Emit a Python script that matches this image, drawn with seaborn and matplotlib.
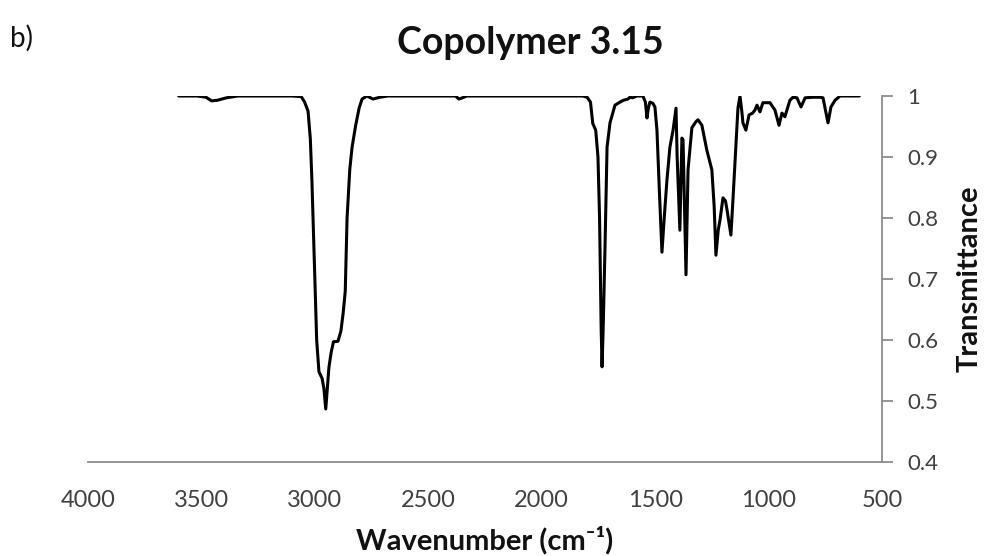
import matplotlib
matplotlib.use("Agg")
import matplotlib.pyplot as plt
import seaborn as sns
import pandas as pd

# Data
wavenumber = [3600, 3520, 3480, 3455, 3430, 3390, 3340, 3100, 3060, 3045, 3030, 3020,
              3013, 3005, 3000, 2992, 2982, 2968, 2960, 2952, 2945, 2938, 2928, 2918,
              2898, 2885, 2875, 2866, 2858, 2846, 2836, 2820, 2805, 2792, 2770, 2744,
              2713, 2678, 2380, 2365, 2350, 2330, 1820, 1800, 1785, 1775, 1762, 1752,
              1745, 1738, 1734, 1729, 1721, 1712, 1699, 1677, 1655, 1640, 1620, 1611,
              1600, 1580, 1554, 1543, 1536, 1530, 1523, 1510, 1501, 1492, 1482, 1470,
              1460, 1448, 1435, 1421, 1408, 1403, 1391, 1382, 1377, 1364, 1355, 1338,
              1320, 1311, 1294, 1272, 1250, 1240, 1232, 1222, 1214, 1201, 1190, 1183,
              1166, 1157, 1148, 1135, 1126, 1118, 1113, 1100, 1086, 1070, 1060, 1051,
              1038, 1025, 994, 972, 954, 941, 928, 906, 892, 875, 857, 839, 804, 773,
              760, 748, 738, 725, 707, 685, 600]
transmittance = [1.0, 1.0, 0.998, 0.992, 0.993, 0.997, 1.0, 1.0, 0.999, 0.99, 0.975, 0.93,
                 0.862, 0.76, 0.70, 0.60, 0.548, 0.537, 0.52, 0.487, 0.52, 0.555, 0.58, 0.597,
                 0.598, 0.615, 0.645, 0.68, 0.80, 0.88, 0.916, 0.952, 0.98, 0.995, 1.0, 0.995,
                 0.998, 1.0, 1.0, 0.995, 0.997, 1.0, 1.0, 0.998, 0.99, 0.955, 0.944, 0.90,
                 0.80, 0.62, 0.556, 0.62, 0.752, 0.916, 0.956, 0.985, 0.990, 0.993, 0.995, 0.998,
                 0.997, 1.0, 1.0, 0.99, 0.964, 0.98, 0.99, 0.988, 0.982, 0.944, 0.85, 0.744,
                 0.80, 0.862, 0.916, 0.944, 0.980, 0.90, 0.780, 0.931, 0.928, 0.707, 0.879, 0.948,
                 0.958, 0.961, 0.952, 0.911, 0.879, 0.82, 0.739, 0.78, 0.797, 0.833, 0.828, 0.813,
                 0.772, 0.83, 0.890, 0.98, 1.0, 0.975, 0.956, 0.944, 0.969, 0.972, 0.977, 0.985,
                 0.974, 0.989, 0.989, 0.977, 0.952, 0.972, 0.966, 0.993, 0.998, 0.997, 0.982, 0.997,
                 0.998, 0.998, 0.997, 0.975, 0.956, 0.982, 0.993, 1.0, 1.0]

x_ticks = [4000, 3500, 3000, 2500, 2000, 1500, 1000, 500]
y_ticks = [0.4, 0.5, 0.6, 0.7, 0.8, 0.9, 1.0]
y_tick_labels = ["0.4", "0.5", "0.6", "0.7", "0.8", "0.9", "1"]

sns.set_theme(style="white")
plt.rcParams["font.family"] = ["Lato", "DejaVu Sans"]

df = pd.DataFrame({"Wavenumber": wavenumber, "Transmittance": transmittance})

fig = plt.figure(figsize=(9.85, 5.56), dpi=100)
ax = fig.add_axes([88 / 985, 1 - 462 / 556, (882 - 88) / 985, (462 - 96) / 556])

sns.lineplot(data=df, x="Wavenumber", y="Transmittance", ax=ax, color="black",
             linewidth=2.2, estimator=None, sort=True)

ax.set_xlim(4000, 500)
ax.set_ylim(0.4, 1.0)
ax.set_xticks(x_ticks)
ax.set_xticklabels([str(t) for t in x_ticks])
ax.set_yticks(y_ticks)
ax.set_yticklabels(y_tick_labels)

ax.yaxis.tick_right()
ax.yaxis.set_label_position("right")

spine_color = "#8c8c8c"
for side in ["left", "top"]:
    ax.spines[side].set_visible(False)
for side in ["right", "bottom"]:
    ax.spines[side].set_visible(True)
    ax.spines[side].set_color(spine_color)
    ax.spines[side].set_linewidth(1.3)

ax.tick_params(axis="both", which="major", direction="out", length=8, width=1.3,
               color=spine_color, labelsize=17, labelcolor="#404040")
ax.tick_params(axis="x", pad=12)
ax.tick_params(axis="y", pad=10, labelsize=16)

ax.set_xlabel("Wavenumber (cm⁻¹)", fontsize=21, fontweight="bold", color="#111111")
ax.set_ylabel("Transmittance", fontsize=21, fontweight="bold", color="#111111")
ax.xaxis.set_label_coords(0.5, (462 - 540) / 366)
ax.yaxis.set_label_coords((970 - 88) / 794, 0.5)
ax.xaxis.label.set_va("center")
ax.xaxis.label.set_ha("center")
ax.yaxis.label.set_va("center")
ax.yaxis.label.set_ha("center")

fig.text(530 / 985, 1 - 43 / 556, "Copolymer 3.15", ha="center", va="center",
         fontsize=27, fontweight="bold", color="#111111")
fig.text(10 / 985, 1 - 38 / 556, "b)", ha="left", va="center", fontsize=20, color="#111111")

fig.savefig("out.png", dpi=100)
